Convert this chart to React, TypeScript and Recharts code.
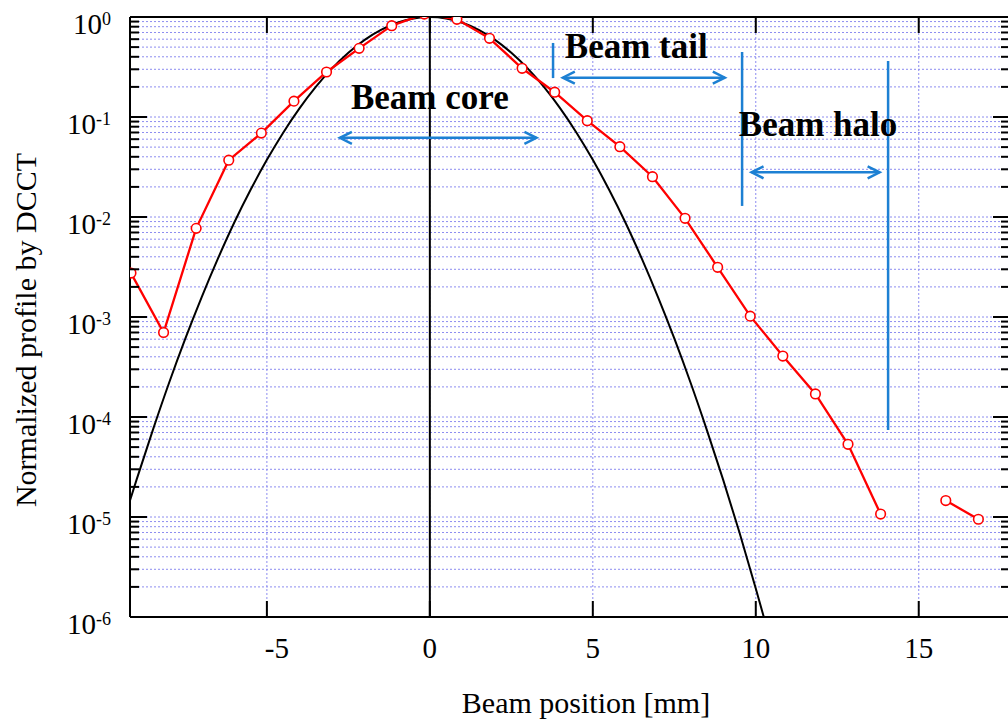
import React from 'react';
import {
  LineChart,
  Line,
  XAxis,
  YAxis,
  CartesianGrid,
  ReferenceLine,
  ReferenceDot,
} from 'recharts';

// DCCT scan: beam position [mm] and normalized profile
const scanPos = [
  -9.17, -8.17, -7.17, -6.17, -5.17, -4.17, -3.17, -2.17, -1.17, -0.17, 0.83, 1.83, 2.83,
  3.83, 4.83, 5.83, 6.83, 7.83, 8.83, 9.83, 10.83, 11.83, 12.83, 13.83, 14.83, 15.83, 16.83,
];
const scanProfile = [
  2.75e-3, 7.0e-4, 7.7e-3, 0.037, 0.069, 0.144, 0.282, 0.486, 0.819, 1.07, 0.948, 0.612, 0.307,
  0.177, 0.0918, 0.0505, 0.0253, 9.7e-3, 3.14e-3, 1.02e-3, 4.07e-4, 1.7e-4, 5.33e-5, 1.07e-5, null,
  1.46e-5, 9.5e-6,
];

// gaussian core fit
const fitPos = [
  -9.2, -9, -8.5, -8, -7.5, -7, -6.5, -6, -5.5, -5, -4.5, -4, -3.5, -3, -2.5, -2, -1.5, -1, -0.5, 0,
  0.5, 1, 1.5, 2, 2.5, 3, 3.5, 4, 4.5, 5, 5.5, 6, 6.5, 7, 7.5, 8, 8.5, 9, 9.5, 10, 10.25,
];
const fitProfile = [
  1.46e-5, 2.35e-5, 7.4e-5, 2.2e-4, 6.1e-4, 1.58e-3, 3.85e-3, 8.8e-3, 0.0187, 0.0373, 0.0697, 0.122,
  0.2, 0.306, 0.439, 0.591, 0.744, 0.877, 0.968, 1, 0.968, 0.877, 0.744, 0.591, 0.439, 0.306, 0.2,
  0.122, 0.0697, 0.0373, 0.0187, 8.8e-3, 3.85e-3, 1.58e-3, 6.1e-4, 2.2e-4, 7.4e-5, 2.35e-5, 7.0e-6,
  1.93e-6, 9.9e-7,
];

const xTicks = [-5, 0, 5, 10, 15];
const decades = [-6, -5, -4, -3, -2, -1, 0];
const minorSteps = [2, 3, 4, 5, 6, 7, 8, 9];

// region markers (data coords)
const regionBounds = [
  { x: 3.78, top: 0.55, bottom: 0.245 },
  { x: 9.58, top: 0.447, bottom: 0.0129 },
  { x: 14.06, top: 0.363, bottom: 7.4e-5 },
];
const regionArrows = [
  { from: -2.76, to: 3.27, y: 0.062 },
  { from: 4.08, to: 9.05, y: 0.247 },
  { from: 9.87, to: 13.8, y: 0.028 },
];
const regionLabels = [
  { text: 'Beam core', x: -2.42, y: 0.12 },
  { text: 'Beam tail', x: 4.14, y: 0.389 },
  { text: 'Beam halo', x: 9.48, y: 0.0646 },
];

const X_DOMAIN: [number, number] = [-9.2, 17.8];
const Y_DOMAIN: [number, number] = [1e-6, 1];

const RED = '#ff0000';
const BLUE = '#1d80d3';
const GRID = '#8c8cf0';
const SERIF = '"Liberation Serif", "Times New Roman", Times, serif';

const scanData = scanPos.map((x, i) => ({ x, y: scanProfile[i] }));
const fitData = fitPos.map((x, i) => ({ x, y: fitProfile[i] }));

const yTicks = decades.flatMap((d) =>
  d === 0 ? [1] : [Math.pow(10, d), ...minorSteps.map((m) => m * Math.pow(10, d))],
);

const isDecade = (v: number) => {
  const l = Math.log10(v);
  return Math.abs(l - Math.round(l)) < 1e-9;
};

const LeftTick = ({ x, y, payload }: any) => {
  const v = payload.value as number;
  const major = isDecade(v);
  const exp = Math.round(Math.log10(v));
  return (
    <g>
      <line x1={x} y1={y} x2={x + (major ? 17 : 9)} y2={y} stroke="#000" strokeWidth={2} />
      {major && (
        <text x={x - 19} y={y + 16.5} textAnchor="end" fontSize={29} fontFamily={SERIF} fill="#000">
          10
          <tspan fontSize={18} dy={-8.5}>
            {String(exp)}
          </tspan>
        </text>
      )}
    </g>
  );
};

const RightTick = ({ x, y, payload }: any) => {
  const major = isDecade(payload.value);
  return <line x1={x} y1={y} x2={x - (major ? 17 : 9)} y2={y} stroke="#000" strokeWidth={2} />;
};

const BottomTick = ({ x, y, payload }: any) => (
  <g>
    <line x1={x} y1={y} x2={x} y2={y - 16} stroke="#000" strokeWidth={2} />
    <text
      x={x + (payload.value < 0 ? 10 : 0)}
      y={y + 41}
      textAnchor="middle"
      fontSize={29}
      fontFamily={SERIF}
      fill="#000"
    >
      {payload.value}
    </text>
  </g>
);

const TopTick = ({ x, y }: any) => (
  <line x1={x} y1={y} x2={x} y2={y + 16} stroke="#000" strokeWidth={2} />
);

const DoubleArrow = ({ x1, y1, x2, y2 }: any) => {
  const h = 12;
  const w = 6;
  return (
    <g stroke={BLUE} strokeWidth={2.5} fill="none">
      <line x1={x1} y1={y1} x2={x2} y2={y2} />
      <polyline points={`${x1 + h},${y1 - w} ${x1},${y1} ${x1 + h},${y1 + w}`} />
      <polyline points={`${x2 - h},${y2 - w} ${x2},${y2} ${x2 - h},${y2 + w}`} />
    </g>
  );
};

const regionText = (text: string) => (p: any) => (
  <text x={p.cx} y={p.cy} fontSize={35} fontWeight="bold" fontFamily={SERIF} fill="#000">
    {text}
  </text>
);

const xTitle = (props: any) => {
  const vb = props.viewBox;
  return (
    <text
      x={vb.x + vb.width / 2 + 16}
      y={vb.y + 96}
      textAnchor="middle"
      fontSize={30}
      fontFamily={SERIF}
      fill="#000"
    >
      Beam position [mm]
    </text>
  );
};

const yTitle = (props: any) => {
  const vb = props.viewBox;
  const cx = vb.x + 36;
  const cy = vb.y + vb.height / 2 + 13;
  return (
    <text
      transform={`translate(${cx},${cy}) rotate(-90)`}
      textAnchor="middle"
      fontSize={30}
      fontFamily={SERIF}
      fill="#000"
    >
      Normalized profile by DCCT
    </text>
  );
};

export default function App() {
  return (
    <div
      style={{
        position: 'absolute',
        left: 0,
        top: 0,
        width: 1008,
        height: 719,
        overflow: 'hidden',
        background: '#fff',
      }}
    >
      <LineChart width={1020} height={719} margin={{ top: 0, right: 0, bottom: 0, left: 0 }}>
        <CartesianGrid stroke={GRID} strokeDasharray="2 2" strokeWidth={1} />
        <XAxis
          dataKey="x"
          type="number"
          domain={X_DOMAIN}
          ticks={xTicks}
          allowDataOverflow
          height={102}
          tickSize={0}
          tickMargin={0}
          tickLine={false}
          tick={<BottomTick />}
          axisLine={{ stroke: '#000', strokeWidth: 2 }}
          label={xTitle}
        />
        <XAxis
          xAxisId="top"
          orientation="top"
          dataKey="x"
          type="number"
          domain={X_DOMAIN}
          ticks={xTicks}
          allowDataOverflow
          height={17}
          tickSize={0}
          tickMargin={0}
          tickLine={false}
          tick={<TopTick />}
          axisLine={{ stroke: '#000', strokeWidth: 2 }}
        />
        <YAxis
          type="number"
          scale="log"
          domain={Y_DOMAIN}
          ticks={yTicks}
          interval={0}
          allowDataOverflow
          width={130}
          tickSize={0}
          tickMargin={0}
          tickLine={false}
          tick={<LeftTick />}
          axisLine={{ stroke: '#000', strokeWidth: 2 }}
          label={yTitle}
        />
        <YAxis
          yAxisId="right"
          orientation="right"
          type="number"
          scale="log"
          domain={Y_DOMAIN}
          ticks={yTicks}
          interval={0}
          allowDataOverflow
          width={10}
          tickSize={0}
          tickMargin={0}
          tickLine={false}
          tick={<RightTick />}
          axisLine={{ stroke: '#000', strokeWidth: 2 }}
        />
        <ReferenceLine x={0} stroke="#000" strokeWidth={2} />
        <Line
          data={fitData}
          dataKey="y"
          type="monotone"
          stroke="#000"
          strokeWidth={2}
          dot={false}
          isAnimationActive={false}
        />
        <Line
          data={scanData}
          dataKey="y"
          type="linear"
          stroke={RED}
          strokeWidth={2.3}
          dot={{ r: 4.8, stroke: RED, strokeWidth: 1.6, fill: '#fff' }}
          connectNulls={false}
          isAnimationActive={false}
        />
        {regionBounds.map((b, i) => (
          <ReferenceLine
            key={`b-${i}`}
            segment={[
              { x: b.x, y: b.top },
              { x: b.x, y: b.bottom },
            ]}
            stroke={BLUE}
            strokeWidth={2.5}
          />
        ))}
        {regionArrows.map((a, i) => (
          <ReferenceLine
            key={`a-${i}`}
            segment={[
              { x: a.from, y: a.y },
              { x: a.to, y: a.y },
            ]}
            shape={DoubleArrow}
          />
        ))}
        {regionLabels.map((l) => (
          <ReferenceDot key={l.text} x={l.x} y={l.y} r={0} shape={regionText(l.text)} />
        ))}
      </LineChart>
    </div>
  );
}
